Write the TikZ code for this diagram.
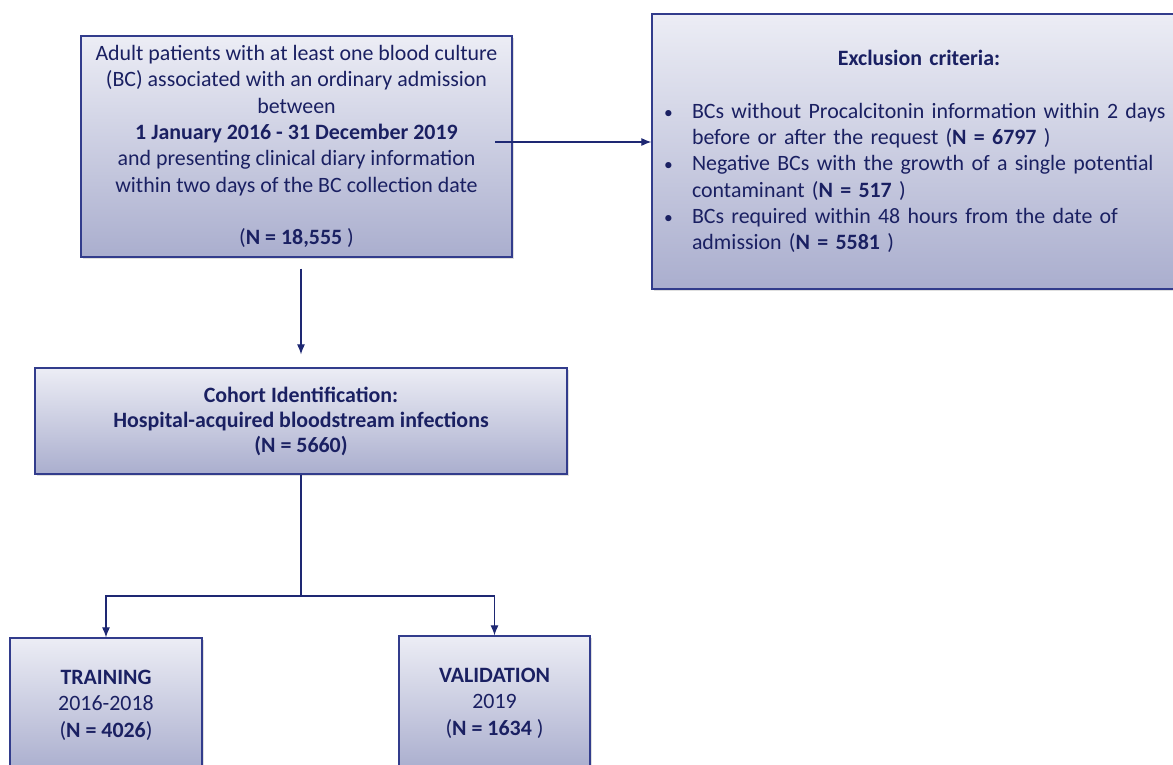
\documentclass[tikz,border=0pt]{standalone}
\usepackage{fontspec}
\setmainfont{Carlito}
\usetikzlibrary{shadows,arrows.meta}
\definecolor{navy}{RGB}{26,32,98}
\definecolor{edgecol}{RGB}{50,60,140}
\definecolor{linecol}{RGB}{30,40,115}
\definecolor{boxtop}{RGB}{236,237,245}
\definecolor{boxbot}{RGB}{170,174,206}
\newcommand{\blt}{\makebox[29pt][l]{\hspace{1pt}\scalebox{0.8}{\textbullet}}}
\tikzset{
  box/.style={draw=edgecol, line width=1.3pt, top color=boxtop, bottom color=boxbot,
    drop shadow={opacity=0.25, shadow xshift=2pt, shadow yshift=-2pt},
    text=navy, align=center, inner sep=0pt},
  conn/.style={draw=linecol, line width=1.1pt},
  arr/.style={conn, -{Latex[length=10pt,width=8pt]}},
}
\begin{document}
\begin{tikzpicture}[x=1pt,y=-1pt]
\fill[white] (0,0) rectangle (1173,764);
\useasboundingbox (0,0) rectangle (1173,764);

\node[box, minimum width=431, minimum height=221,
  font=\fontsize{21.9}{26.3}\selectfont] (b1) at (296.5,146.5)
 {Adult patients with at least one blood culture\\
  (BC) associated with an ordinary admission\\
  between\\
  \textbf{1 January 2016 - 31 December 2019}\\
  and presenting clinical diary information\\
  within two days of the BC collection date\\[26.3pt]
  (\textbf{N = 18,555} )};

\node[box, minimum width=534, minimum height=275, text width=512, align=left,
  font=\fontsize{21.9}{26.3}\selectfont] (b2) at (919,151.5)
 {\makebox[512pt][c]{\textbf{Exclusion criteria:}}\\[26.3pt]
  \blt BCs without Procalcitonin information within 2 days\\
  \hspace*{29pt}before or after the request (\textbf{N = 6797} )\\
  \blt Negative BCs with the growth of a single potential\\
  \hspace*{29pt}contaminant (\textbf{N = 517} )\\
  \blt BCs required within 48 hours from the date of\\
  \hspace*{29pt}admission (\textbf{N = 5581} )};

\node[box, minimum width=532, minimum height=106,
  font=\fontsize{21.9}{25}\selectfont\bfseries] (b3) at (301,421)
 {Cohort Identification:\\
  Hospital-acquired bloodstream infections\\
  (N = 5660)};

\node[box, minimum width=192, minimum height=134,
  font=\fontsize{21.9}{26.5}\selectfont] (b4) at (106,705)
 {\textbf{TRAINING}\\2016-2018\\(\textbf{N = 4026})};

\node[box, minimum width=191, minimum height=134,
  font=\fontsize{21.9}{26.5}\selectfont] (b5) at (494.5,703)
 {\textbf{VALIDATION}\\2019\\(\textbf{N = 1634} )};

\coordinate (a1) at (495,142);
\draw[arr] (a1) -- (b2.west |- a1);

\coordinate (v) at (301,0);
\draw[arr, shorten <=11pt, shorten >=13pt] (b1.south -| v) -- (b3.north -| v);

\coordinate (split) at (301,596);
\draw[conn] (b3.south -| split) -- (split);
\draw[arr] (split) -| (b4.north);
\draw[arr] (split) -| (b5.north);
\end{tikzpicture}
\end{document}
